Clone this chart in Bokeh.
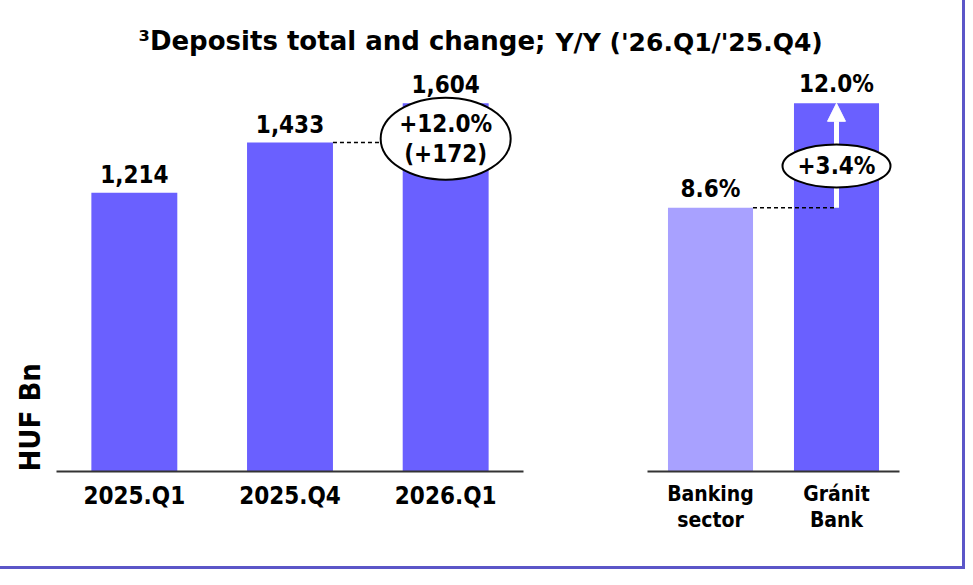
from math import pi
from bokeh.plotting import figure
from bokeh.models import ColumnDataSource, Range1d, FactorRange, Label, Arrow, NormalHead, Div
from bokeh.layouts import row, column
from bokeh.core.properties import value
from bokeh.embed import file_html
from bokeh.resources import INLINE

# ---------------- data ----------------
quarters = ["2025.Q1", "2025.Q4", "2026.Q1"]
deposits = [1214, 1433, 1604]            # HUF Bn
change_pct = 12.0                        # '26.Q1 / '25.Q4, %
change_abs = 172                         # HUF Bn
groups = ["Banking\nsector", "Gránit\nBank"]
yoy_growth = [8.6, 12.0]                 # %

title_main = "³Deposits total and change;"
title_sub = "Y/Y ('26.Q1/'25.Q4)"
y_label = "HUF Bn"

# ---------------- style ----------------
FONT = "DejaVu Sans Condensed"
TFONT = "DejaVu Sans"
DARK = "#6a60ff"
LIGHT = "#a8a1ff"
FRAME = "#5b56c8"

FIG_H = 504
FRAME_H = 409
TITLE_H = 62


def bare(width, height, y_range=None):
    f = figure(width=width, height=height, x_range=Range1d(0, width),
               y_range=y_range if y_range is not None else Range1d(0, height),
               min_border=0, x_axis_type=None, y_axis_type=None,
               output_backend="svg", toolbar_location=None)
    f.outline_line_color = None
    return f


def style(p, label_size, line_height):
    p.xgrid.grid_line_color = None
    p.ygrid.grid_line_color = None
    p.outline_line_color = None
    ax = p.xaxis[0]
    ax.axis_line_color = "#333333"
    ax.axis_line_width = 2
    ax.major_tick_line_color = None
    ax.major_tick_out = 0
    ax.major_tick_in = 0
    ax.major_label_standoff = 10
    ax.major_label_text_font = FONT
    ax.major_label_text_font_style = "bold"
    ax.major_label_text_font_size = label_size
    ax.major_label_text_line_height = line_height
    ax.major_label_text_color = "black"


# ---------------- title ----------------
tf = bare(962, TITLE_H)
tf.add_layout(Label(x=545, y=TITLE_H - 40.5, text=title_main, text_align="right",
                    text_baseline="middle", text_font=TFONT, text_font_style="bold",
                    text_font_size="26px", text_color="black"))
tf.add_layout(Label(x=555, y=TITLE_H - 41.5, text=title_sub, text_align="left",
                    text_baseline="middle", text_font=TFONT, text_font_style="bold",
                    text_font_size="25px", text_color="black"))

# ---------------- left panel ----------------
p1 = figure(x_range=FactorRange(*quarters), y_range=Range1d(0, 1782),
            width=527, height=FIG_H, min_border_left=0, min_border_right=60,
            min_border_top=0, min_border_bottom=FIG_H - FRAME_H, y_axis_location=None,
            output_backend="svg", toolbar_location=None)
style(p1, "24px", 1.2)

# ---------------- y label column (shares the left panel's value scale) ----------------
lf = bare(56, FIG_H, y_range=p1.y_range)
lf.min_border_bottom = FIG_H - FRAME_H
lf.add_layout(Label(x=29, y=0, text=y_label, angle=pi / 2, text_align="left",
                    text_baseline="middle", text_font=FONT, text_font_style="bold",
                    text_font_size="29px", text_color="black"))

src1 = ColumnDataSource(dict(q=quarters, v=deposits, lbl=[f"{v:,}" for v in deposits]))
bw1 = 0.552
p1.vbar(x="q", top="v", width=bw1, source=src1, fill_color=DARK, line_color=None)
p1.text(x="q", y="v", text="lbl", source=src1, text_align="center", text_baseline="middle",
        y_offset=-19, text_font=value(FONT), text_font_style="bold", text_font_size="24px",
        text_color="black")

i_prev = quarters.index("2025.Q4")
i_cur = quarters.index("2026.Q1")
p1.segment(x0=[i_prev + 0.5 + bw1 / 2], x1=[i_cur + 0.5], y0=[deposits[i_prev]], y1=[deposits[i_prev]],
           line_color="black", line_width=1.5, line_dash="4 3")
ey1 = deposits[i_prev] + 0.1 * (deposits[i_cur] - deposits[i_prev])
p1.ellipse(x=[quarters[i_cur]], y=[ey1], width=130, height=82, width_units="screen",
           height_units="screen", fill_color="white", line_color="black", line_width=2,
           level="overlay")
p1.text(x=[quarters[i_cur]] * 2, y=[ey1, ey1], text=[f"+{change_pct:.1f}%", f"(+{change_abs})"],
        y_offset=[-15, 15], text_align="center", text_baseline="middle", text_font=value(FONT),
        text_font_style="bold", text_font_size="24px", text_color="black", level="overlay")

# ---------------- right panel ----------------
p2 = figure(x_range=FactorRange(*groups), y_range=Range1d(0, 13.33),
            width=379, height=FIG_H, min_border_left=64, min_border_right=63,
            min_border_top=0, min_border_bottom=FIG_H - FRAME_H, y_axis_location=None,
            output_backend="svg", toolbar_location=None)
style(p2, "21px", 1.1)

src2 = ColumnDataSource(dict(g=groups, v=yoy_growth, c=[LIGHT, DARK],
                             lbl=[f"{v:.1f}%" for v in yoy_growth]))
bw2 = 0.675
p2.vbar(x="g", top="v", width=bw2, source=src2, fill_color="c", line_color=None)
p2.text(x="g", y="v", text="lbl", source=src2, text_align="center", text_baseline="middle",
        y_offset=-19, text_font=value(FONT), text_font_style="bold", text_font_size="24px",
        text_color="black")

p2.segment(x0=[0.5 + bw2 / 2], x1=[1.5], y0=[yoy_growth[0]], y1=[yoy_growth[0]],
           line_color="black", line_width=1.5, line_dash="4 3")
p2.add_layout(Arrow(end=NormalHead(size=18, fill_color="white", line_color="white"),
                    x_start=1.5, y_start=yoy_growth[0], x_end=1.5, y_end=yoy_growth[1],
                    line_color="white", line_width=5))
diff = yoy_growth[1] - yoy_growth[0]
ey2 = yoy_growth[0] + 0.4 * diff
p2.ellipse(x=[groups[1]], y=[ey2], width=108, height=43, width_units="screen",
           height_units="screen", fill_color="white", line_color="black", line_width=2,
           level="overlay")
p2.text(x=[groups[1]], y=[ey2], text=[f"+{diff:.1f}%"], text_align="center", text_baseline="middle",
        text_font=value(FONT), text_font_style="bold", text_font_size="24px", text_color="black",
        level="overlay")

# ---------------- frame & layout ----------------
vline = Div(text="", width=3, height=569, margin=0, styles={"background-color": FRAME})
hline = Div(text="", width=962, height=3, margin=0, styles={"background-color": FRAME})

layout = row(column(tf, row(lf, p1, p2), hline), vline)

open("out.html", "w").write(file_html(layout, INLINE))
